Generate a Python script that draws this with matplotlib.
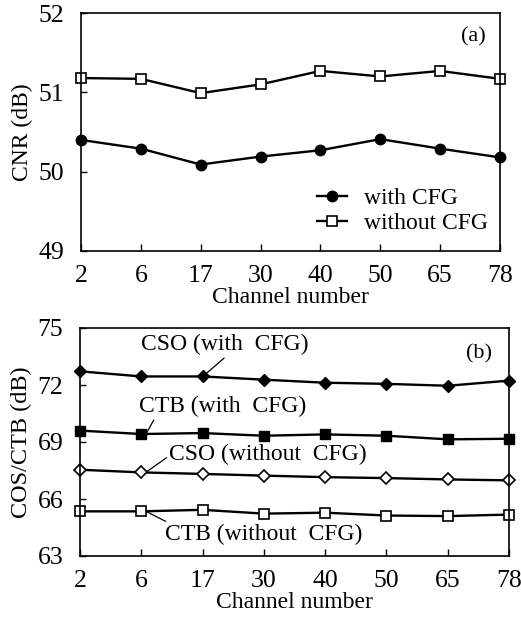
import numpy as np
import matplotlib
matplotlib.use("Agg")
import matplotlib.pyplot as plt

plt.rcParams["font.family"] = ["Liberation Serif", "DejaVu Serif"]

channels = ["2", "6", "17", "30", "40", "50", "65", "78"]

# panel (a): CNR
cnr_with = [50.40, 50.29, 50.09, 50.19, 50.27, 50.41, 50.29, 50.18]
cnr_without = [51.18, 51.17, 50.99, 51.10, 51.27, 51.20, 51.27, 51.17]

# panel (b): CSO / CTB
cso_with = [72.72, 72.45, 72.45, 72.28, 72.12, 72.06, 71.96, 72.23]
ctb_with = [69.60, 69.42, 69.47, 69.33, 69.40, 69.33, 69.14, 69.17]
cso_without = [67.54, 67.40, 67.32, 67.23, 67.15, 67.10, 67.03, 66.98]
ctb_without = [65.35, 65.35, 65.43, 65.23, 65.28, 65.13, 65.10, 65.18]

x = np.arange(len(channels))

fig = plt.figure(figsize=(5.21, 6.20), dpi=100)
ax1 = fig.add_axes([81 / 521, 1 - 251 / 620, 419 / 521, 238 / 620])
ax2 = fig.add_axes([80 / 521, 1 - 556 / 620, 429 / 521, 228 / 620])

lw = 1.7
ax1.plot(x, cnr_with, "k-", lw=lw, marker="o", ms=7.5, mfc="k", clip_on=False, label="with CFG")
ax1.plot(x, cnr_without, "k-", lw=lw, marker="s", ms=7.5, mfc="white", mew=1.2, clip_on=False, label="without CFG")
ax1.set_ylim(49, 52)
ax1.set_yticks([49, 50, 51, 52])
ax1.text(0.965, 0.9, "(a)", transform=ax1.transAxes, fontsize=16, ha="right", va="center")
ax1.set_ylabel("CNR (dB)", fontsize=17, labelpad=4)
leg = ax1.legend(loc="lower right", frameon=False, fontsize=17, handlelength=1.25,
                 handletextpad=0.75, labelspacing=0.15, borderaxespad=0.0,
                 bbox_to_anchor=(0.995, 0.03))

ax2.plot(x, cso_with, "k-", lw=lw, marker="D", ms=6, mfc="k", clip_on=False)
ax2.plot(x, ctb_with, "k-", lw=lw, marker="s", ms=7.5, mfc="k", clip_on=False)
ax2.plot(x, cso_without, "k-", lw=lw, marker="D", ms=6, mfc="white", mew=1.2, clip_on=False)
ax2.plot(x, ctb_without, "k-", lw=lw, marker="s", ms=7.5, mfc="white", mew=1.2, clip_on=False)
ax2.set_ylim(63, 75)
ax2.set_yticks([63, 66, 69, 72, 75])
ax2.text(0.96, 0.885, "(b)", transform=ax2.transAxes, fontsize=16, ha="right", va="center")
ax2.set_ylabel("COS/CTB (dB)", fontsize=17.5, labelpad=4)

arrow = dict(arrowstyle="-", color="k", lw=0.9, shrinkA=0, shrinkB=0)
ax2.annotate("CSO (with  CFG)", xy=(2.04, 72.55), xytext=(2.37, 74.12), fontsize=17,
             ha="center", va="center", arrowprops=dict(arrow, relpos=(0.52, 0.05)))
ax2.annotate("CTB (with  CFG)", xy=(1.09, 69.5), xytext=(2.33, 70.86), fontsize=17,
             ha="center", va="center", arrowprops=dict(arrow, relpos=(0.1, 0.05)))
ax2.annotate("CSO (without  CFG)", xy=(1.09, 67.44), xytext=(3.07, 68.33), fontsize=17,
             ha="center", va="center", arrowprops=dict(arrow, relpos=(0.0, 0.45)))
ax2.annotate("CTB (without  CFG)", xy=(1.09, 65.33), xytext=(3.0, 64.12), fontsize=17,
             ha="center", va="center", arrowprops=dict(arrow, relpos=(0.04, 0.95)))

for ax in (ax1, ax2):
    ax.set_xlim(0, 7)
    ax.set_xticks(x)
    ax.set_xticklabels(channels)
    ax.set_xlabel("Channel number", fontsize=17, labelpad=0)
    ax.tick_params(axis="both", direction="in", labelsize=18.5, width=1)
    ax.tick_params(axis="x", length=5, pad=10)
    ax.tick_params(axis="y", length=4, pad=12)
    for s in ax.spines.values():
        s.set_linewidth(1.2)

fig.savefig("out.png", dpi=100)
